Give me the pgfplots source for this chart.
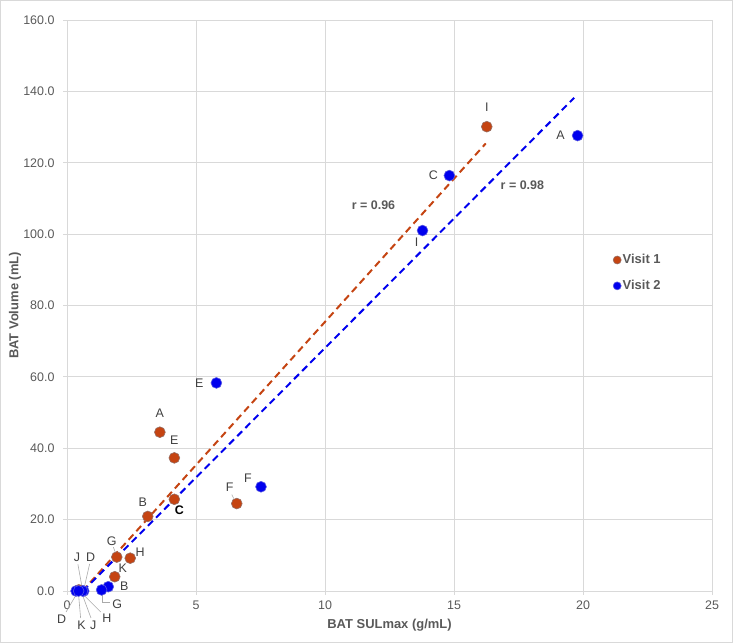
\documentclass[border=0pt]{standalone}
\usepackage{pgfplots}
\pgfplotsset{compat=1.18}
\usepackage{fontspec}
\setmainfont{Liberation Sans}
\definecolor{vone}{RGB}{197,68,18}
\definecolor{vonedraw}{RGB}{150,110,100}
\definecolor{vtwo}{RGB}{0,0,238}
\definecolor{vtwodraw}{RGB}{90,90,225}
\definecolor{gridc}{RGB}{217,217,217}
\definecolor{txt}{RGB}{89,89,89}
\definecolor{lbl}{RGB}{64,64,64}
\definecolor{leader}{RGB}{170,170,170}

\pgfplotstableread{
x y
3.60 44.5
3.13 20.9
4.16 25.7
0.45 0.3
4.16 37.3
6.58 24.5
1.93 9.5
2.45 9.2
16.27 130.1
0.50 0.2
1.85 4.0
}\visitone

\pgfplotstableread{
x y
19.79 127.6
1.60 1.2
14.82 116.4
0.35 0.0
5.79 58.3
7.52 29.2
1.34 0.3
0.65 0.0
13.78 101.0
0.60 0.0
0.45 0.0
}\visittwo

\begin{document}
\begin{tikzpicture}[x=1bp,y=1bp]
\useasboundingbox (0,0) rectangle (733,643);
\draw[gridc] (0.5,0.5) rectangle (732.5,642.5);
\begin{axis}[
  at={(67bp,52bp)}, anchor=south west,
  scale only axis, width=645bp, height=571bp,
  xmin=0, xmax=25, ymin=0, ymax=160,
  xtick={0,5,...,25}, ytick={0,20,...,160},
  grid=major, grid style={gridc, line width=0.75bp},
  axis line style={gridc, line width=0.75bp},
  tick pos=left, tick align=outside, major tick length=4bp,
  tick style={gridc, line width=0.75bp},
  ticklabel style={font=\fontsize{12.5}{15}\selectfont, text=txt},
  /pgf/number format/assume math mode=true,
  yticklabel style={xshift=-5bp, /pgf/number format/.cd, fixed, fixed zerofill, precision=1},
  xticklabel style={yshift=-2bp},
  xlabel={BAT SULmax (g/mL)}, ylabel={BAT Volume (mL)},
  label style={font=\bfseries\fontsize{13}{15}\selectfont, text=txt},
  xlabel style={at={(axis description cs:0.5,-0.0595)}, anchor=center},
  ylabel style={at={(axis description cs:-0.0806,0.5)}, anchor=center},
  legend style={draw=none, fill=none, at={(axis description cs:0.8465,0.557)}, anchor=west,
    font=\bfseries\fontsize{13}{15}\selectfont, text=txt, row sep=12bp, inner sep=0pt,
    nodes={inner sep=1.5bp}},
  legend cell align=left,
  legend image code/.code={\draw[#1, mark size=4bp] plot coordinates {(0bp,0bp)};},
  clip=false,
]
% trendlines
\addplot[forget plot, vone, line width=2bp, dash pattern=on 7bp off 4.5bp] coordinates {(0.60,0) (16.23,125.4)};
\addplot[forget plot, vtwo, line width=2bp, dash pattern=on 7bp off 4.5bp] coordinates {(0.62,0) (19.66,138.2)};
% data
\addplot[only marks, mark=*, mark size=5.4bp, mark options={fill=vone, draw=vonedraw, line width=0.6bp}] table[x=x,y=y] {\visitone};
\addlegendentry{Visit 1}
\addplot[only marks, mark=*, mark size=5.4bp, mark options={fill=vtwo, draw=vtwodraw, line width=0.6bp}] table[x=x,y=y] {\visittwo};
\addlegendentry{Visit 2}

% r labels
\node[font=\bfseries\fontsize{12.5}{15}\selectfont, text=txt] at (axis cs:11.88,108.0) {r = 0.96};
\node[font=\bfseries\fontsize{12.5}{15}\selectfont, text=txt] at (axis cs:17.65,113.8) {r = 0.98};

% leader lines
\begin{scope}[leader, line width=0.6bp]
% visit 1
\draw ([xshift=-2bp,yshift=26bp]axis cs:0.50,0.2) -- ([xshift=2bp,yshift=4bp]axis cs:0.50,0.2);
\draw ([xshift=11bp,yshift=26bp]axis cs:0.45,0.3) -- ([xshift=6bp,yshift=4bp]axis cs:0.45,0.3);
\draw ([xshift=-3.5bp,yshift=10bp]axis cs:1.93,9.5) -- ([xshift=-1.5bp,yshift=5bp]axis cs:1.93,9.5);
\draw ([xshift=-5bp,yshift=9bp]axis cs:6.58,24.5) -- ([xshift=-3bp,yshift=5bp]axis cs:6.58,24.5);
% visit 2
\draw ([xshift=0.6bp,yshift=-3bp]axis cs:1.34,0.3) -- ([xshift=0.6bp,yshift=-12.7bp]axis cs:1.34,0.3) -- ([xshift=8.3bp,yshift=-12.7bp]axis cs:1.34,0.3);
\draw ([yshift=-4bp]axis cs:0.35,0) -- ([xshift=-10bp,yshift=-21bp]axis cs:0.35,0);
\draw ([yshift=-4bp]axis cs:0.45,0) -- ([xshift=2bp,yshift=-27bp]axis cs:0.45,0);
\draw ([yshift=-4bp]axis cs:0.60,0) -- ([xshift=8.5bp,yshift=-27bp]axis cs:0.60,0);
\draw ([yshift=-4bp]axis cs:0.65,0) -- ([xshift=17bp,yshift=-21bp]axis cs:0.65,0);
\end{scope}

% point labels
\begin{scope}[every node/.style={font=\fontsize{12.5}{15}\selectfont, text=lbl, inner sep=0pt}]
% visit 1
\node[xshift=0bp,yshift=19bp] at (axis cs:3.60,44.5) {A};
\node[xshift=-5bp,yshift=14bp] at (axis cs:3.13,20.9) {B};
\node[xshift=5bp,yshift=-11bp, text=black, font=\bfseries\fontsize{12.5}{15}\selectfont] at (axis cs:4.16,25.7) {C};
\node[xshift=0bp,yshift=18bp] at (axis cs:4.16,37.3) {E};
\node[xshift=-7bp,yshift=16bp] at (axis cs:6.58,24.5) {F};
\node[xshift=-5bp,yshift=16bp] at (axis cs:1.93,9.5) {G};
\node[xshift=10bp,yshift=6bp] at (axis cs:2.45,9.2) {H};
\node[xshift=0bp,yshift=19bp] at (axis cs:16.27,130.1) {I};
\node[xshift=8bp,yshift=9bp] at (axis cs:1.85,4.0) {K};
\node[xshift=-3bp,yshift=33bp] at (axis cs:0.50,0.2) {J};
\node[xshift=12bp,yshift=33bp] at (axis cs:0.45,0.3) {D};
% visit 2
\node[xshift=-17bp] at (axis cs:19.79,127.6) {A};
\node[xshift=16bp] at (axis cs:1.60,1.2) {B};
\node[xshift=-16bp] at (axis cs:14.82,116.4) {C};
\node[xshift=-17bp] at (axis cs:5.79,58.3) {E};
\node[xshift=-13bp,yshift=9bp] at (axis cs:7.52,29.2) {F};
\node[xshift=-6bp,yshift=-12bp] at (axis cs:13.78,101.0) {I};
\node[xshift=15.6bp,yshift=-14.3bp] at (axis cs:1.34,0.3) {G};
\node[xshift=-14.3bp,yshift=-28bp] at (axis cs:0.35,0) {D};
\node[xshift=3bp,yshift=-34.7bp] at (axis cs:0.45,0) {K};
\node[xshift=10.8bp,yshift=-34.7bp] at (axis cs:0.60,0) {J};
\node[xshift=23bp,yshift=-27.3bp] at (axis cs:0.65,0) {H};
\end{scope}
\end{axis}
\end{tikzpicture}
\end{document}
